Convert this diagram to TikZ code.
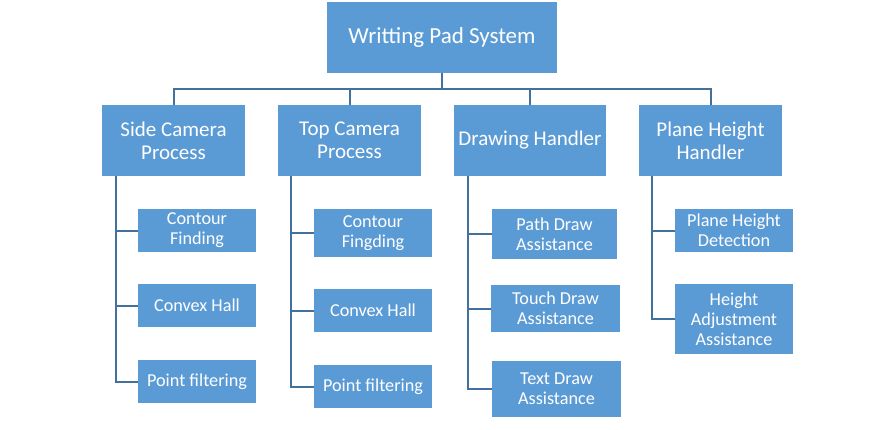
\documentclass[tikz,border=0pt]{standalone}
\usepackage{fontspec}
\setmainfont{Carlito}
\definecolor{boxblue}{HTML}{5B9BD5}
\definecolor{lineblue}{HTML}{41719C}
\begin{document}
\begin{tikzpicture}[x=1pt,y=-1pt,
  box/.style={fill=boxblue,text=white,inner sep=0pt,align=center,anchor=center},
  lvl0/.style={box,minimum width=230pt,minimum height=71pt,font=\fontsize{23}{27}\selectfont},
  lvl1/.style={box,minimum height=71pt,font=\fontsize{21}{23}\selectfont},
  lvl2/.style={box,minimum width=118pt,font=\fontsize{18.2}{20}\selectfont},
  conn/.style={draw=lineblue,line width=2pt}]
\path[use as bounding box] (0,0) rectangle (895,429);
\node[lvl0] (root) at (442,37.5) {Writting Pad System};
\node[lvl1,minimum width=143pt] (side) at (173.5,140.5) {Side Camera\\Process};
\node[lvl1,minimum width=143pt] (top) at (349.5,140.5) {Top Camera\\Process};
\node[lvl1,minimum width=152pt] (draw) at (530,140.5) {Drawing Handler};
\node[lvl1,minimum width=143pt] (plane) at (710.5,140.5) {Plane Height\\Handler};
%
\node[lvl2,minimum height=43pt] (cf) at (197,230.5) {Contour\\Finding};
\node[lvl2,minimum height=43pt] (ch1) at (197,305.5) {Convex Hall};
\node[lvl2,minimum height=43pt] (pf1) at (197,381.5) {Point filtering};
\node[lvl2,minimum height=48pt] (cf2) at (373,233) {Contour\\Fingding};
\node[lvl2,minimum height=43pt] (ch2) at (373,310.5) {Convex Hall};
\node[lvl2,minimum height=43pt] (pf2) at (373,386.5) {Point filtering};
\node[lvl2,minimum width=125pt,minimum height=50pt] (pd) at (554.5,234) {Path Draw\\Assistance};
\node[lvl2,minimum width=129pt,minimum height=47pt] (td) at (555.5,308.5) {Touch Draw\\Assistance};
\node[lvl2,minimum width=129pt,minimum height=56pt] (xd) at (556.5,389) {Text Draw\\Assistance};
\node[lvl2,minimum height=43pt] (phd) at (734,230.5) {Plane Height\\Detection};
\node[lvl2,minimum height=70pt] (ha) at (734,319) {Height\\Adjustment\\Assistance};
%
\coordinate (bus) at (442,89);
\draw[conn] (root.south) -- (bus);
\draw[conn] (side.north) -- (side.north |- bus) -- (plane.north |- bus) -- (plane.north);
\draw[conn] (top.north) -- (top.north |- bus);
\draw[conn] (draw.north) -- (draw.north |- bus);
%
\coordinate (s1) at ([xshift=14pt]side.south west);
\coordinate (s2) at ([xshift=13pt]top.south west);
\coordinate (s3) at ([xshift=14pt]draw.south west);
\coordinate (s4) at ([xshift=13pt]plane.south west);
\draw[conn] (s1) |- (pf1.west);
\draw[conn] (s1 |- cf.west) -- (cf.west);
\draw[conn] (s1 |- ch1.west) -- (ch1.west);
\draw[conn] (s2) |- (pf2.west);
\draw[conn] (s2 |- cf2.west) -- (cf2.west);
\draw[conn] (s2 |- ch2.west) -- (ch2.west);
\draw[conn] (s3) |- (xd.west);
\draw[conn] (s3 |- pd.west) -- (pd.west);
\draw[conn] (s3 |- td.west) -- (td.west);
\draw[conn] (s4) |- (ha.west);
\draw[conn] (s4 |- phd.west) -- (phd.west);
\end{tikzpicture}
\end{document}
